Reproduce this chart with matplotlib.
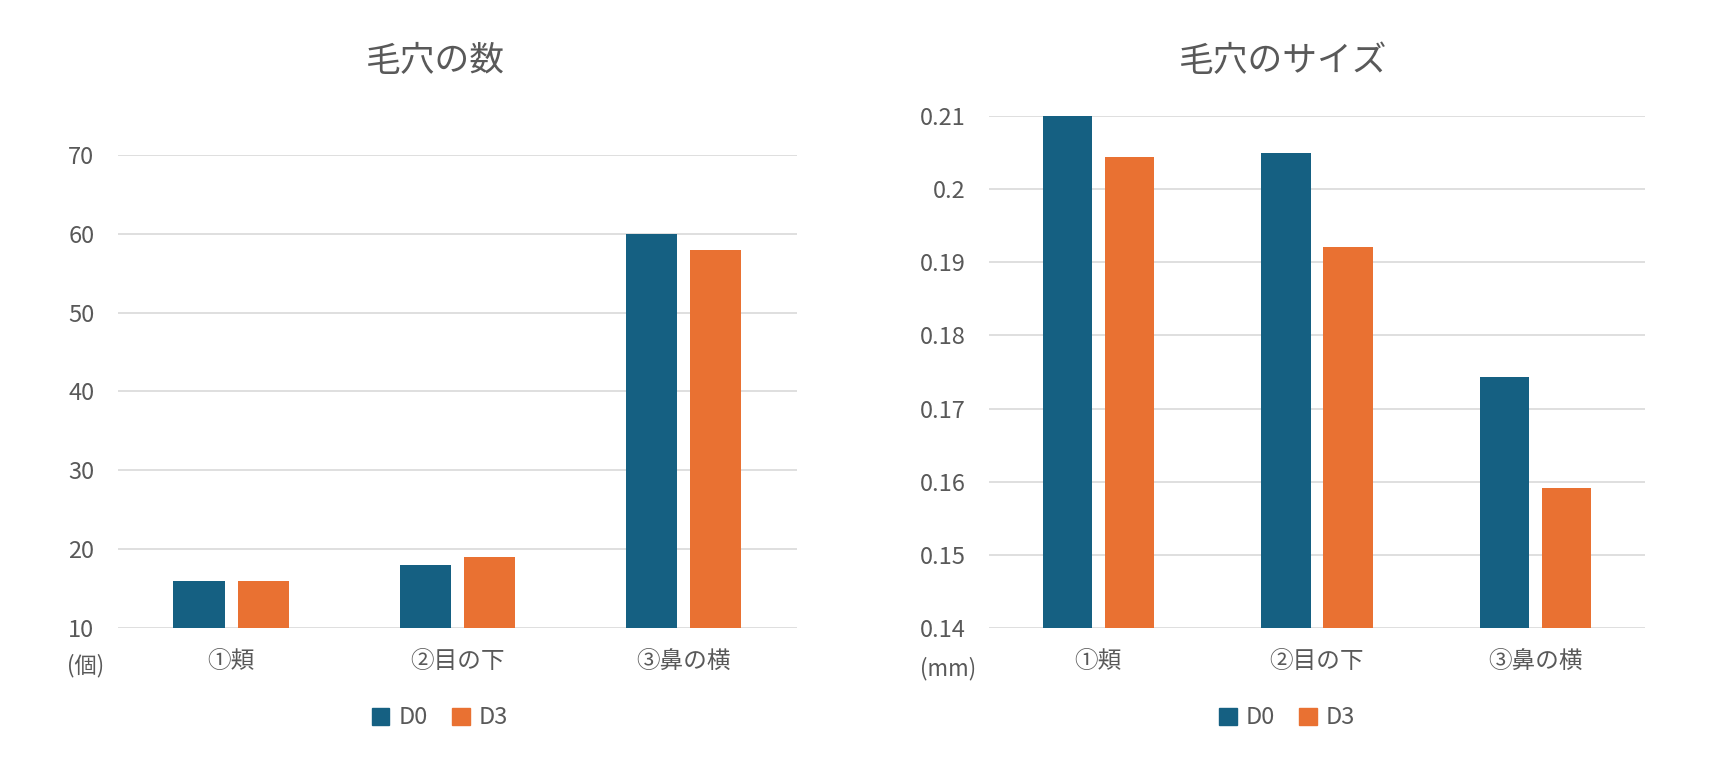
import matplotlib
matplotlib.use("Agg")
import matplotlib.pyplot as plt
import numpy as np
from matplotlib.patches import Patch

plt.rcParams['font.family'] = ['Noto Sans CJK JP', 'DejaVu Sans']

categories = ["①頬", "②目の下", "③鼻の横"]
series = ["D0", "D3"]

count_d0 = [16, 18, 60]
count_d3 = [16, 19, 58]

size_d0 = [0.2100, 0.2050, 0.1743]
size_d3 = [0.2044, 0.1921, 0.1591]

colors = ["#156082", "#E97132"]
text_color = "#595959"
grid_color = "#d9d9d9"

fig = plt.figure(figsize=(17.23, 7.63), dpi=100)

ax1 = fig.add_axes([0.0685, 0.1769, 0.394, 0.620])
ax2 = fig.add_axes([0.574, 0.1769, 0.3807, 0.671])

w = 0.226
off = w / 2 + 0.029


def draw(ax, d0, d3, ylim, yticks, ticklabels, title, unit, title_x, legend_x):
    x = np.arange(len(categories))
    ax.bar(x - off, np.array(d0) - ylim[0], w, bottom=ylim[0], color=colors[0], zorder=3)
    ax.bar(x + off, np.array(d3) - ylim[0], w, bottom=ylim[0], color=colors[1], zorder=3)
    ax.set_xlim(-0.5, len(categories) - 0.5)
    ax.set_ylim(ylim)
    ax.set_yticks(yticks)
    ax.set_yticklabels(ticklabels)
    ax.set_xticks(x)
    ax.set_xticklabels(categories)
    for s in ax.spines.values():
        s.set_visible(False)
    ax.grid(axis="y", color=grid_color, linewidth=1.2, zorder=0)
    ax.tick_params(axis="y", length=0, pad=17, labelsize=17, labelcolor=text_color)
    ax.tick_params(axis="x", length=0, pad=16, labelsize=17, labelcolor=text_color)
    fig.text(title_x, 0.92, title, ha="center", va="center", fontsize=25, color=text_color)
    ax.text(-0.02, -0.08, unit, transform=ax.transAxes, ha="right", va="center",
            fontsize=16, color=text_color)
    handles = [Patch(color=colors[i], label=series[i]) for i in range(2)]
    fig.legend(handles=handles, loc="center", bbox_to_anchor=(legend_x, 0.059), ncol=2,
               frameon=False, handlelength=0.75, handleheight=0.75, handletextpad=0.4,
               columnspacing=1.0, fontsize=17, labelcolor=text_color)


draw(ax1, count_d0, count_d3, (10, 70), [10, 20, 30, 40, 50, 60, 70],
     ["10", "20", "30", "40", "50", "60", "70"], "毛穴の数", "(個)", 0.253, 0.2554)
draw(ax2, size_d0, size_d3, (0.14, 0.21), [0.14, 0.15, 0.16, 0.17, 0.18, 0.19, 0.2, 0.21],
     ["0.14", "0.15", "0.16", "0.17", "0.18", "0.19", "0.2", "0.21"], "毛穴のサイズ", "(mm)",
     0.745, 0.747)

fig.savefig("out.png", dpi=100)
